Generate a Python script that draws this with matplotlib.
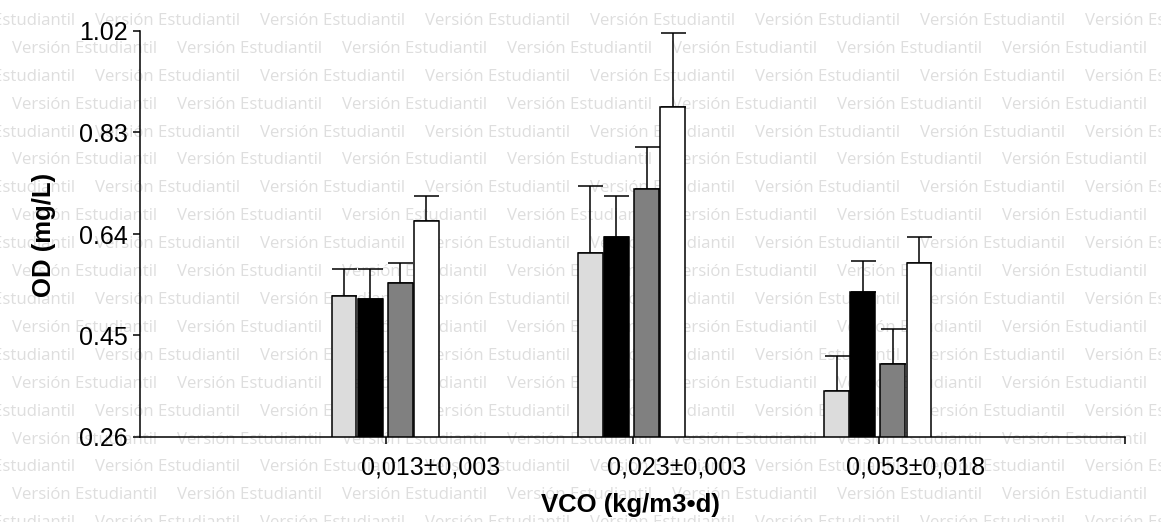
import numpy as np
import matplotlib.pyplot as plt
import matplotlib.transforms as mtransforms

plt.rcParams['font.family'] = ['Liberation Sans', 'DejaVu Sans']

categories = ['0,013±0,003', '0,023±0,003', '0,053±0,018']
# mean OD per series (mg/L)
s1 = [0.524, 0.605, 0.346]
s2 = [0.518, 0.634, 0.531]
s3 = [0.549, 0.724, 0.397]
s4 = [0.664, 0.878, 0.586]
# upper error (only the positive side is drawn)
s1_err = [0.050, 0.125, 0.066]
s2_err = [0.056, 0.078, 0.058]
s3_err = [0.037, 0.078, 0.065]
s4_err = [0.048, 0.139, 0.048]
yticks = [0.26, 0.45, 0.64, 0.83, 1.02]

series = [s1, s2, s3, s4]
errs = [s1_err, s2_err, s3_err, s4_err]
colors = ['#dcdcdc', '#000000', '#808080', '#ffffff']
offsets = [-0.171, -0.065, 0.057, 0.163]
width = 0.1

fig = plt.figure(figsize=(11.61, 5.22), dpi=100)

# watermark, font size fitted so one "Versión Estudiantil" is ~144 px wide
wm = 'Versión Estudiantil'
renderer = fig.canvas.get_renderer()
probe = fig.text(0, 0, wm, fontsize=12, family='Open Sans')
w = probe.get_window_extent(renderer).width
probe.remove()
wm_size = 12 * 144 / w

for k in range(20):
    yy = 21 + 27.9 * k
    x0 = -70 if k % 2 == 0 else 12
    for j in range(8):
        fig.text((x0 + 165 * j) / 1161, 1 - yy / 522, wm, fontsize=wm_size,
                 color='#dedede', va='center', ha='left', family='Open Sans',
                 zorder=-10)

ax = fig.add_axes([140 / 1161, 1 - 437 / 522, (1125 - 140) / 1161, (437 - 31) / 522])
ax.patch.set_alpha(0)

x = np.arange(1, len(categories) + 1)
for vals, err, c, off in zip(series, errs, colors, offsets):
    ax.bar(x + off, vals, width=width, color=c, edgecolor='black', linewidth=1.1, zorder=2)
    ax.errorbar(x + off, vals, yerr=[np.zeros(len(vals)), err], fmt='none',
                ecolor='black', elinewidth=1.1, capsize=9, capthick=1.1, zorder=1)

ax.set_xlim(0, 4)
ax.set_ylim(0.26, 1.02)
ax.set_yticks(yticks)
ax.set_yticklabels([f'{t:.2f}' for t in yticks], fontsize=18)
ax.set_xticks([1, 2, 3, 4])
ax.set_xticklabels(['', '', '', ''])
ax.tick_params(axis='both', direction='out', length=5, width=1.1, pad=4)

for s in ['top', 'right']:
    ax.spines[s].set_visible(False)
for s in ['left', 'bottom']:
    ax.spines[s].set_linewidth(1.1)

trans = mtransforms.blended_transform_factory(ax.transData, ax.transAxes)
label_shift = [0.18, 0.18, 0.15]
for xi, lab, sh in zip(x, categories, label_shift):
    ax.text(xi + sh, -0.074, lab, transform=trans, ha='center', va='center', fontsize=18)

fig.text(630 / 1161, 1 - 505 / 522, 'VCO (kg/m3•d)', ha='center', va='center',
         fontsize=18.5, fontweight='bold')
fig.text(44 / 1161, 1 - 235 / 522, 'OD (mg/L)', ha='center', va='center',
         rotation=90, fontsize=18.5, fontweight='bold')

fig.savefig('out.png', dpi=100)
